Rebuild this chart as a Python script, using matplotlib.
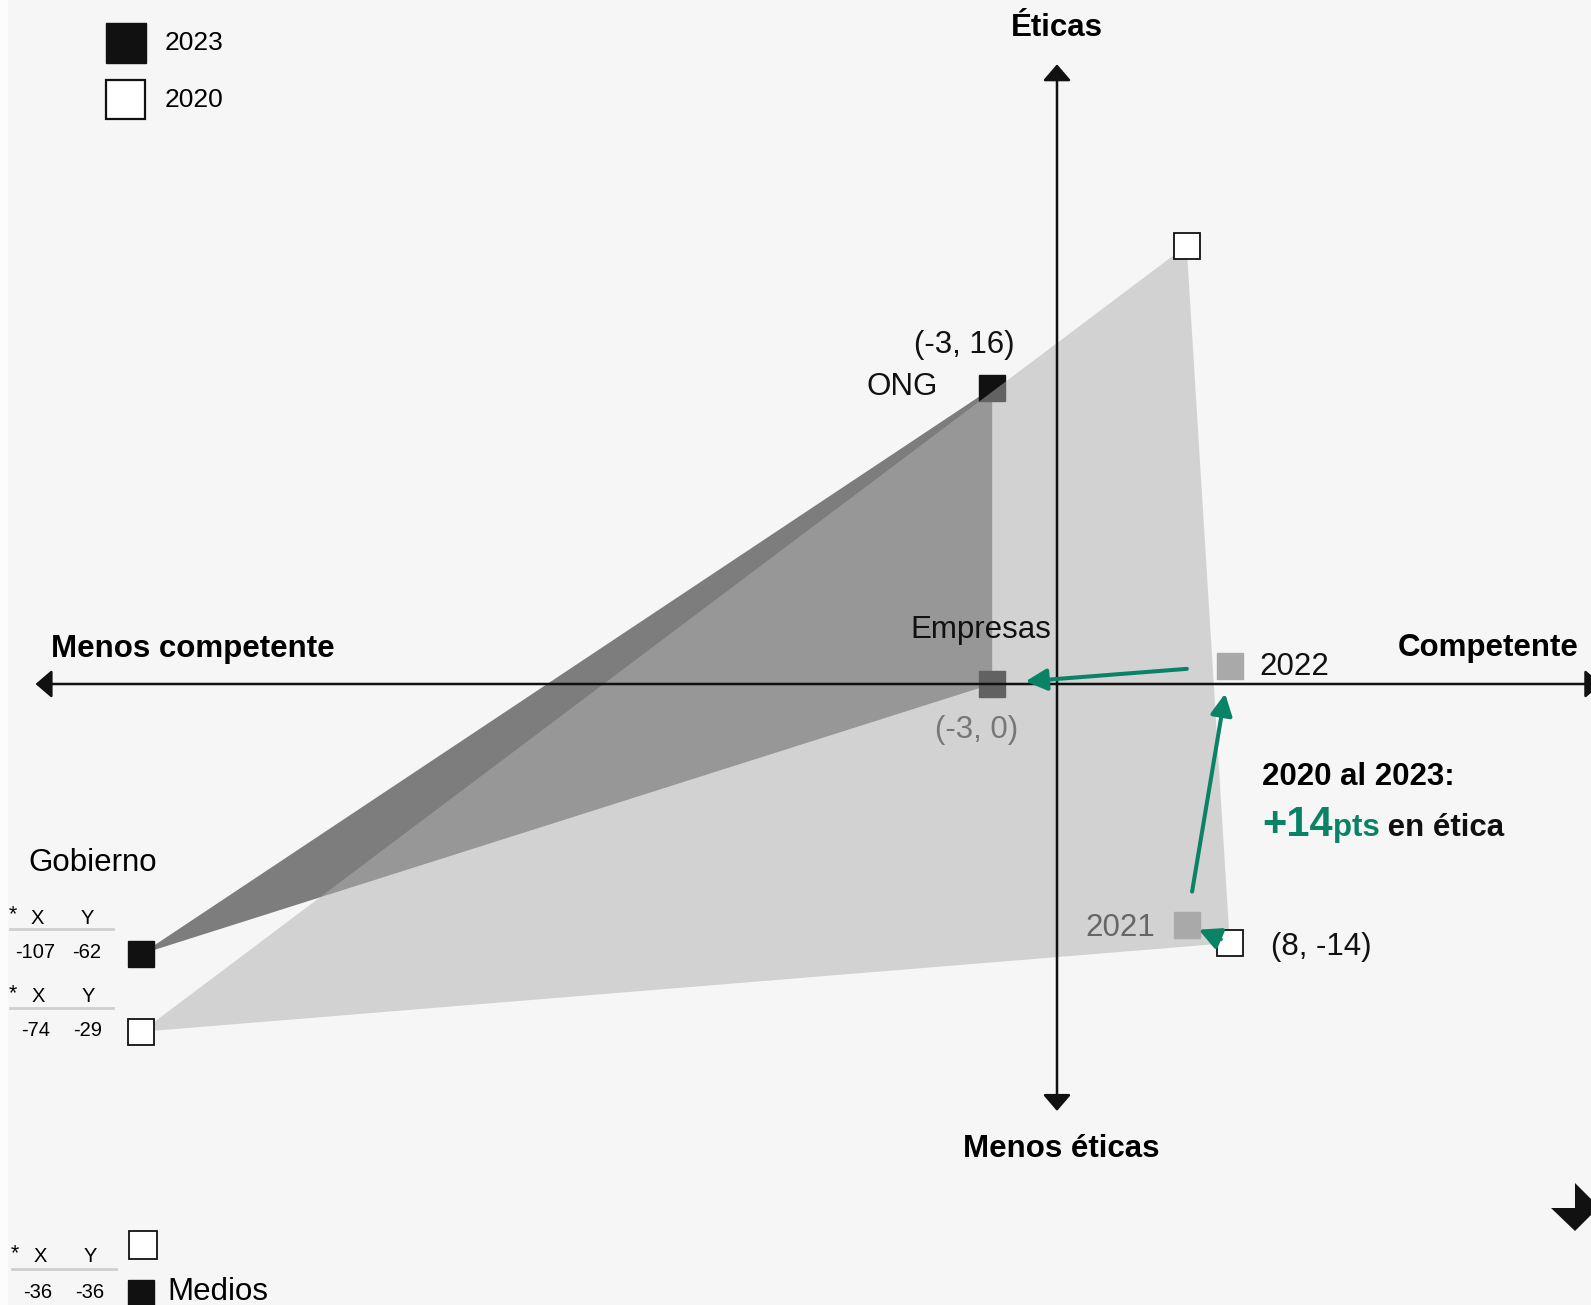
import numpy as np
import matplotlib
matplotlib.use("Agg")
import matplotlib.pyplot as plt
from matplotlib.patches import Polygon, Rectangle

plt.rcParams['font.family'] = ['Liberation Sans', 'DejaVu Sans']

# --- Datos ---
sectores = ["ONG", "Empresas", "Gobierno"]
competencia_2023 = [-3, -3, -107]
etica_2023 = [16, 0, -62]
competencia_2020 = [6, 8, -74]
etica_2020 = [23.7, -14, -29]

# Gobierno y Medios quedan fuera de escala: se dibujan en el borde izquierdo
gob_pos_2023 = (-42.4, -14.6)
gob_pos_2020 = (-42.4, -18.8)
medios_valor = (-36, -36)
medios_pos_2020 = (-42.3, -30.3)
medios_pos_2023 = (-42.4, -32.9)

# Trayectoria de Empresas
anios_trayecto = ["2020", "2021", "2022", "2023"]
trayecto_x = [8, 6, 8, -3]
trayecto_y = [-14, -13, 1, 0]

W, H = 1591, 1305
BG = "#f6f6f6"
TEAL = "#0a8266"
NEGRO = "#111111"


def fx(x):
    return x / W


def fy(y):
    return 1 - y / H


fig = plt.figure(figsize=(W / 100, H / 100), dpi=100, facecolor=BG)
ax = fig.add_axes([0, 0, 1, 1])
ax.set_xlim(-1057 / 21.6, (W - 1057) / 21.6)
ax.set_ylim((684 - H) / 18.5, 684 / 18.5)
ax.axis("off")
ax.set_facecolor(BG)
fig.add_artist(Rectangle((0, 0), 7 / W, 1, transform=fig.transFigure,
                         color="#fcfcfc", zorder=0))

# puntos usados para los triangulos
p23 = [(competencia_2023[0], etica_2023[0]), (competencia_2023[1], etica_2023[1]), gob_pos_2023]
p20 = [(competencia_2020[0], etica_2020[0]), (competencia_2020[1], etica_2020[1]), gob_pos_2020]

ax.add_patch(Polygon(p23, closed=True, facecolor="#7d7d7d", edgecolor="none", zorder=1))

# marcadores 2023
MS = 19
ax.plot([p[0] for p in p23], [p[1] for p in p23], ls="none", marker="s", ms=MS,
        mfc=NEGRO, mec=NEGRO, zorder=2)
ax.plot(*medios_pos_2023, marker="s", ms=MS, mfc=NEGRO, mec=NEGRO, zorder=2)

# triangulo 2020 semitransparente
ax.add_patch(Polygon(p20, closed=True, facecolor="#b1b1b1", alpha=0.51,
                     edgecolor="none", zorder=3))

# marcadores 2020
ax.plot([p[0] for p in p20], [p[1] for p in p20], ls="none", marker="s", ms=MS,
        mfc="white", mec=NEGRO, mew=1.3, zorder=4)
ax.plot(*medios_pos_2020, marker="s", ms=MS + 1, mfc="white", mec=NEGRO, mew=1.3, zorder=4)

# 2021 y 2022
ax.plot(trayecto_x[1:3], trayecto_y[1:3], ls="none", marker="s", ms=MS,
        mfc="#a9a9a9", mec="#a9a9a9", zorder=4)

# ejes con flechas
eje = dict(arrowstyle="<|-|>,head_length=0.5,head_width=0.43", color=NEGRO, lw=1.8,
           shrinkA=0, shrinkB=0, mutation_scale=20)
ax.annotate("", xy=(-47.29, 0), xytext=(25.2, 0), arrowprops=eje, zorder=5, annotation_clip=False)
ax.annotate("", xy=(0, 33.5), xytext=(0, -23.08), arrowprops=eje, zorder=5, annotation_clip=False)

# flechas de la trayectoria
flecha = dict(arrowstyle="-|>,head_length=0.65,head_width=0.33", color=TEAL, lw=2.9,
              mutation_scale=20)
shrinks = [(7, 9.5), (24, 20.5), (31, 24)]
for i, (sa, sb) in enumerate(shrinks):
    ax.annotate("", xy=(trayecto_x[i + 1], trayecto_y[i + 1]),
                xytext=(trayecto_x[i], trayecto_y[i]),
                arrowprops=dict(flecha, shrinkA=sa, shrinkB=sb), zorder=6)

# etiquetas de los puntos
F = 22.5
ax.annotate("(-3, 16)", (competencia_2023[0], etica_2023[0]), xytext=(-20, 31),
            textcoords="offset points", ha="center", va="center", fontsize=F, color=NEGRO)
ax.annotate("ONG", (competencia_2023[0], etica_2023[0]), xytext=(-39, 0.7),
            textcoords="offset points", ha="right", va="center", fontsize=F, color=NEGRO)
ax.annotate("Empresas", (competencia_2023[1], etica_2023[1]), xytext=(-8, 39),
            textcoords="offset points", ha="center", va="center", fontsize=F, color=NEGRO, zorder=7)
ax.annotate("(-3, 0)", (competencia_2023[1], etica_2023[1]), xytext=(-11, -33),
            textcoords="offset points", ha="center", va="center", fontsize=F, color="#777777")
ax.annotate("(8, -14)", (competencia_2020[1], etica_2020[1]), xytext=(30, -3),
            textcoords="offset points", ha="left", va="center", fontsize=F, color=NEGRO)
ax.annotate(anios_trayecto[1], (trayecto_x[1], trayecto_y[1]), xytext=(-23, -2.5),
            textcoords="offset points", ha="right", va="center", fontsize=F, color="#666666")
ax.annotate(anios_trayecto[2], (trayecto_x[2], trayecto_y[2]), xytext=(21, -1),
            textcoords="offset points", ha="left", va="center", fontsize=F, color=NEGRO)

# titulos de ejes
fig.text(fx(1057), fy(28), "Éticas", ha="center", va="center", fontsize=F, fontweight="bold")
fig.text(fx(1061), fy(1149), "Menos éticas", ha="center", va="center", fontsize=F, fontweight="bold")
fig.text(fx(51), fy(649), "Menos competente", ha="left", va="center", fontsize=F, fontweight="bold")
fig.text(fx(1398), fy(648), "Competente", ha="left", va="center", fontsize=F, fontweight="bold")

# leyenda
fig.text(fx(165), fy(43), "2023", ha="left", va="center", fontsize=19)
fig.text(fx(165), fy(100), "2020", ha="left", va="center", fontsize=19)
fig.add_artist(Rectangle((fx(106), fy(63)), 40 / W, 40 / H, transform=fig.transFigure,
                         facecolor=NEGRO, edgecolor=NEGRO))
fig.add_artist(Rectangle((fx(106), fy(119)), 39 / W, 39 / H, transform=fig.transFigure,
                         facecolor="white", edgecolor=NEGRO, lw=1.6))

# Gobierno y Medios (valores fuera de escala)
fig.text(fx(28), fy(863), "Gobierno", ha="left", va="center", fontsize=F)
fig.text(fx(167), fy(1292), "Medios", ha="left", va="center", fontsize=F)

tablas = [
    (918, 929, 953, (-107, -62), 10, 113, 35, 87),
    (997, 1008, 1030, (-74, -29), 10, 113, 36, 88),
    (1257, 1269, 1293, medios_valor, 12, 116, 38, 90),
]
FS = 14.5
for y_enc, y_lin, y_val, (vx, vy), x0, x1, cx, cy in tablas:
    fig.text(fx(x0 + 3), fy(y_enc - 3), "*", ha="center", va="center", fontsize=FS + 1)
    fig.text(fx(cx + 2), fy(y_enc), "X", ha="center", va="center", fontsize=FS)
    fig.text(fx(cy), fy(y_enc), "Y", ha="center", va="center", fontsize=FS)
    fig.add_artist(plt.Line2D([fx(x0), fx(x1)], [fy(y_lin), fy(y_lin)],
                              transform=fig.transFigure, color="#cfcfcf", lw=2))
    fig.text(fx(cx), fy(y_val), str(vx), ha="center", va="center", fontsize=FS)
    fig.text(fx(cy), fy(y_val), str(vy), ha="center", va="center", fontsize=FS)

# nota de cambio
fig.text(fx(1262), fy(777), "2020 al 2023:", ha="left", va="center", fontsize=F, fontweight="bold")
renderer = fig.canvas.get_renderer()
partes = [("+14", 30, TEAL), ("pts", F, TEAL), (" en ética", F, NEGRO)]
x_act = fx(1262)
for txt, size, col in partes:
    t = fig.text(x_act, fy(836), txt, ha="left", va="baseline", fontsize=size,
                 fontweight="bold", color=col)
    bb = t.get_window_extent(renderer=renderer)
    x_act = bb.x1 / (W)

# marca decorativa abajo a la derecha
fig.add_artist(Polygon([(fx(1551), fy(1208)), (fx(1575), fy(1208)), (fx(1575), fy(1183)),
                        (fx(1599), fy(1207)), (fx(1575), fy(1231))],
                       closed=True, transform=fig.transFigure, facecolor=NEGRO, edgecolor="none"))

fig.savefig("out.png", dpi=100, facecolor=BG)
